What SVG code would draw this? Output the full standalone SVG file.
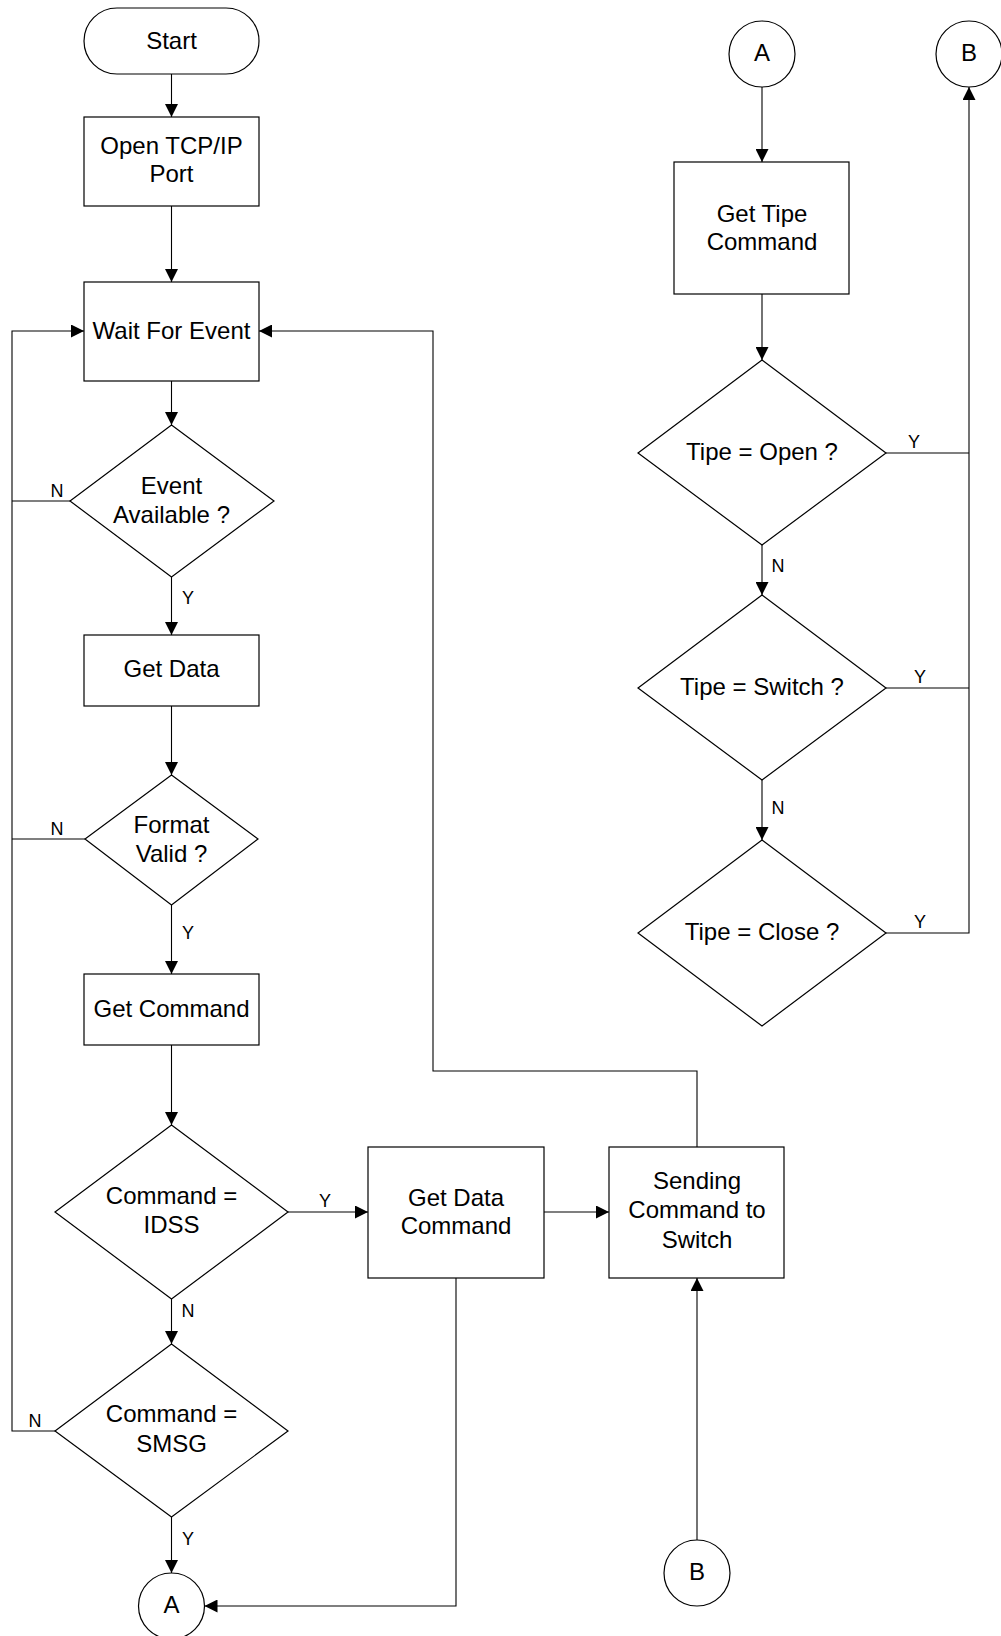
<svg xmlns="http://www.w3.org/2000/svg" width="1001" height="1636" viewBox="0 0 1001 1636">
<style>
.shape{fill:#ffffff;stroke:#000000;stroke-width:1.2}
.conn{fill:none;stroke:#000000;stroke-width:1.1}
.t{font-family:"Liberation Sans",Arial,sans-serif;font-size:24px;fill:#000000;text-anchor:middle}
.lbl{font-family:"Liberation Sans",Arial,sans-serif;font-size:18px;fill:#000000;text-anchor:middle}
</style>
<defs>
<marker id="arr" markerUnits="userSpaceOnUse" markerWidth="13" markerHeight="13" refX="13" refY="6.5" orient="auto">
<path d="M0,0 L13,6.5 L0,13 z" fill="#000000"/>
</marker>
</defs>
<rect width="1001" height="1636" fill="#ffffff"/>

<g id="connectors">
<path class="conn" d="M171.5,74 V117" marker-end="url(#arr)"/>
<path class="conn" d="M171.5,206 V282" marker-end="url(#arr)"/>
<path class="conn" d="M171.5,381 V425" marker-end="url(#arr)"/>
<path class="conn" d="M171.5,577 V635" marker-end="url(#arr)"/>
<path class="conn" d="M70,501 H12"/>
<path class="conn" d="M85,839 H12"/>
<path class="conn" d="M55,1431 H12 V331 H84" marker-end="url(#arr)"/>
<path class="conn" d="M171.5,706 V775" marker-end="url(#arr)"/>
<path class="conn" d="M171.5,905 V974" marker-end="url(#arr)"/>
<path class="conn" d="M171.5,1045 V1125" marker-end="url(#arr)"/>
<path class="conn" d="M288,1212 H368" marker-end="url(#arr)"/>
<path class="conn" d="M171.5,1299 V1344" marker-end="url(#arr)"/>
<path class="conn" d="M171.5,1517 V1573" marker-end="url(#arr)"/>
<path class="conn" d="M456,1278 V1606 H204.5" marker-end="url(#arr)"/>
<path class="conn" d="M544,1212 H609" marker-end="url(#arr)"/>
<path class="conn" d="M697,1147 V1071 H433 V331 H259" marker-end="url(#arr)"/>
<path class="conn" d="M697,1540 V1278" marker-end="url(#arr)"/>
<path class="conn" d="M762,87 V162" marker-end="url(#arr)"/>
<path class="conn" d="M762,294 V360" marker-end="url(#arr)"/>
<path class="conn" d="M762,545 V595" marker-end="url(#arr)"/>
<path class="conn" d="M762,780 V840" marker-end="url(#arr)"/>
<path class="conn" d="M886,453 H969"/>
<path class="conn" d="M886,688 H969"/>
<path class="conn" d="M886,933 H969 V87" marker-end="url(#arr)"/>
<text class="lbl" x="188" y="604">Y</text>
<text class="lbl" x="57" y="497">N</text>
<text class="lbl" x="57" y="835">N</text>
<text class="lbl" x="188" y="939">Y</text>
<text class="lbl" x="325" y="1207">Y</text>
<text class="lbl" x="188" y="1317">N</text>
<text class="lbl" x="35" y="1427">N</text>
<text class="lbl" x="188" y="1545">Y</text>
<text class="lbl" x="914" y="448">Y</text>
<text class="lbl" x="778" y="572">N</text>
<text class="lbl" x="920" y="683">Y</text>
<text class="lbl" x="778" y="814">N</text>
<text class="lbl" x="920" y="928">Y</text>
</g>

<g id="start">
<rect class="shape" x="84" y="8" width="175" height="66" rx="33" ry="33"/>
<text class="t" x="171.5" y="49">Start</text>
</g>
<g id="open-port">
<rect class="shape" x="84" y="117" width="175" height="89"/>
<text class="t" x="171.5" y="154">Open TCP/IP</text>
<text class="t" x="171.5" y="182">Port</text>
</g>
<g id="wait-event">
<rect class="shape" x="84" y="282" width="175" height="99"/>
<text class="t" x="171.5" y="339">Wait For Event</text>
</g>
<g id="event-available">
<polygon class="shape" points="171.5,425 274,501 171.5,577 70,501"/>
<text class="t" x="171.5" y="494">Event</text>
<text class="t" x="171.5" y="523">Available ?</text>
</g>
<g id="get-data">
<rect class="shape" x="84" y="635" width="175" height="71"/>
<text class="t" x="171.5" y="677">Get Data</text>
</g>
<g id="format-valid">
<polygon class="shape" points="171.5,775 258,839 171.5,905 85,839"/>
<text class="t" x="171.5" y="833">Format</text>
<text class="t" x="171.5" y="862">Valid ?</text>
</g>
<g id="get-command">
<rect class="shape" x="84" y="974" width="175" height="71"/>
<text class="t" x="171.5" y="1017">Get Command</text>
</g>
<g id="cmd-idss">
<polygon class="shape" points="171.5,1125 288,1212 171.5,1299 55,1212"/>
<text class="t" x="171.5" y="1204">Command =</text>
<text class="t" x="171.5" y="1233">IDSS</text>
</g>
<g id="cmd-smsg">
<polygon class="shape" points="171.5,1344 288,1431 171.5,1517 55,1431"/>
<text class="t" x="171.5" y="1422">Command =</text>
<text class="t" x="171.5" y="1452">SMSG</text>
</g>
<g id="conn-a-bottom">
<circle class="shape" cx="171.5" cy="1606" r="33"/>
<text class="t" x="171.5" y="1613">A</text>
</g>
<g id="get-data-command">
<rect class="shape" x="368" y="1147" width="176" height="131"/>
<text class="t" x="456" y="1206">Get Data</text>
<text class="t" x="456" y="1234">Command</text>
</g>
<g id="sending-command">
<rect class="shape" x="609" y="1147" width="175" height="131"/>
<text class="t" x="697" y="1189">Sending</text>
<text class="t" x="697" y="1218">Command to</text>
<text class="t" x="697" y="1248">Switch</text>
</g>
<g id="conn-b-bottom">
<circle class="shape" cx="697" cy="1573" r="33"/>
<text class="t" x="697" y="1580">B</text>
</g>
<g id="conn-a-top">
<circle class="shape" cx="762" cy="54" r="33"/>
<text class="t" x="762" y="61">A</text>
</g>
<g id="conn-b-top">
<circle class="shape" cx="969" cy="54" r="33"/>
<text class="t" x="969" y="61">B</text>
</g>
<g id="get-tipe-command">
<rect class="shape" x="674" y="162" width="175" height="132"/>
<text class="t" x="762" y="222">Get Tipe</text>
<text class="t" x="762" y="250">Command</text>
</g>
<g id="tipe-open">
<polygon class="shape" points="762,360 886,453 762,545 638,453"/>
<text class="t" x="762" y="460">Tipe = Open ?</text>
</g>
<g id="tipe-switch">
<polygon class="shape" points="762,595 886,688 762,780 638,688"/>
<text class="t" x="762" y="695">Tipe = Switch ?</text>
</g>
<g id="tipe-close">
<polygon class="shape" points="762,840 886,933 762,1026 638,933"/>
<text class="t" x="762" y="940">Tipe = Close ?</text>
</g>
</svg>
